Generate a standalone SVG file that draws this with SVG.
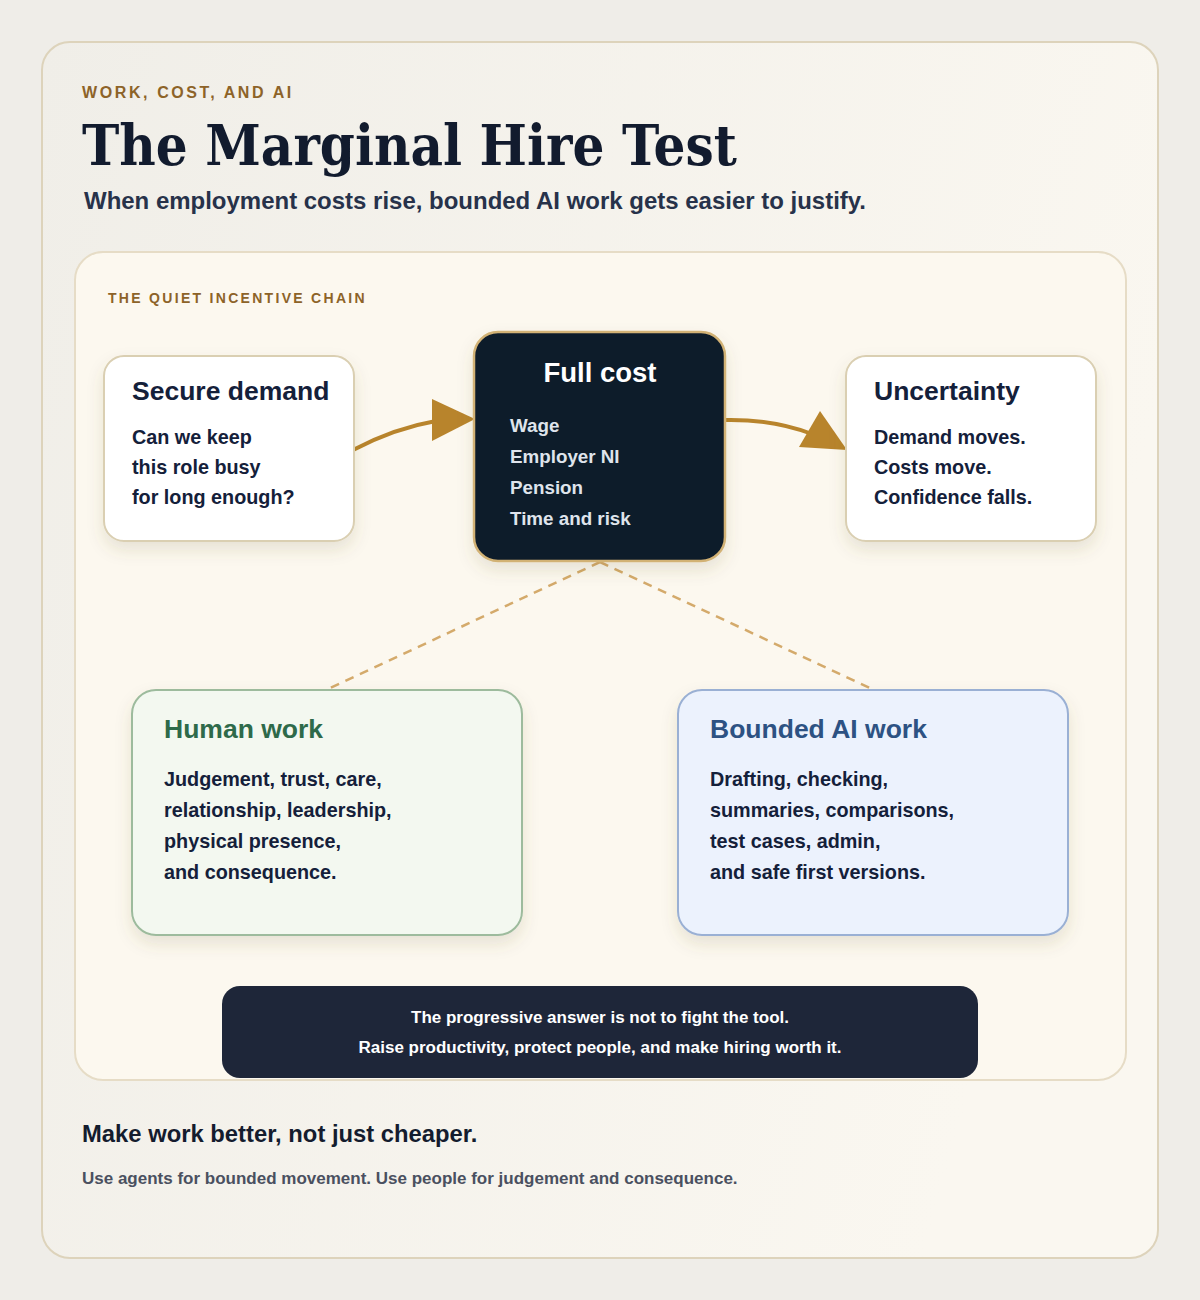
<svg xmlns="http://www.w3.org/2000/svg" width="1200" height="1300" viewBox="0 0 1200 1300">
<style>
.sans{font-family:"Liberation Sans",Arial,sans-serif;font-weight:bold}
.eyebrow{font-size:16px;fill:#8d6328;letter-spacing:2.6px}
.title{font-family:"DejaVu Serif","Liberation Serif",serif;font-weight:bold;font-size:56px;fill:#121b2e}
.sub{font-size:24px;fill:#27324a}
.kicker{font-size:14px;fill:#8d6328;letter-spacing:2.3px}
.ntitle{font-size:26.5px;fill:#14203a}
.nbody{font-size:19.8px;fill:#14203a}
.ctitle{font-size:27.5px;fill:#ffffff}
.cbody{font-size:18.8px;fill:#dfe4ec}
.card{fill:#ffffff;stroke:#dacfb2;stroke-width:2}
.arrow{fill:none;stroke:#b8842c;stroke-width:4}
.head{fill:#b8842c}
.dash{fill:none;stroke:#d4aa6b;stroke-width:2.5;stroke-dasharray:9 7}
</style>
<defs>
<filter id="sh" x="-20%" y="-20%" width="140%" height="150%">
<feDropShadow dx="0" dy="8" stdDeviation="8" flood-color="#6b5a36" flood-opacity="0.14"/>
</filter>
<linearGradient id="bg" x1="0" y1="0" x2="1" y2="0.3">
<stop offset="0" stop-color="#f0eee8"/>
<stop offset="1" stop-color="#faf7f0"/>
</linearGradient>
</defs>
<rect x="0" y="0" width="1200" height="1300" fill="#efede8"/>
<rect x="42" y="42" width="1116" height="1216" rx="28" fill="url(#bg)" stroke="#ddd3bb" stroke-width="2"/>
<g id="header">
<text class="sans eyebrow" x="82" y="98">WORK, COST, AND AI</text>
<text class="title" x="82" y="165" textLength="655" lengthAdjust="spacingAndGlyphs">The Marginal Hire Test</text>
<text class="sans sub" x="84" y="209" textLength="782" lengthAdjust="spacingAndGlyphs">When employment costs rise, bounded AI work gets easier to justify.</text>
</g>
<g id="panel">
<rect x="75" y="252" width="1051" height="828" rx="28" fill="#fcf8ef" stroke="#e6dcc6" stroke-width="2"/>
<text class="sans kicker" x="108" y="303">THE QUIET INCENTIVE CHAIN</text>
</g>
<g id="connectors">
<path class="arrow" d="M353,450 Q395,428 436,421"/>
<polygon class="head" points="432,399 475,419 432,441"/>
<path class="arrow" d="M725,420 Q772,419 812,434"/>
<polygon class="head" points="820,411 847,450 799,447"/>
<path class="dash" d="M600,562 L326,690"/>
<path class="dash" d="M600,562 L874,690"/>
</g>
<g id="secure-demand">
<rect class="card" x="104" y="356" width="250" height="185" rx="20" filter="url(#sh)"/>
<text class="sans ntitle" x="132" y="400">Secure demand</text>
<text class="sans nbody" x="132" y="444">Can we keep</text>
<text class="sans nbody" x="132" y="474">this role busy</text>
<text class="sans nbody" x="132" y="504">for long enough?</text>
</g>
<g id="full-cost">
<rect x="474" y="332" width="251" height="229" rx="24" fill="#0e1c2c" stroke="#d2b274" stroke-width="2.5" filter="url(#sh)"/>
<text class="sans ctitle" x="600" y="382" text-anchor="middle">Full cost</text>
<text class="sans cbody" x="510" y="432">Wage</text>
<text class="sans cbody" x="510" y="463">Employer NI</text>
<text class="sans cbody" x="510" y="494">Pension</text>
<text class="sans cbody" x="510" y="525">Time and risk</text>
</g>
<g id="uncertainty">
<rect class="card" x="846" y="356" width="250" height="185" rx="20" filter="url(#sh)"/>
<text class="sans ntitle" x="874" y="400">Uncertainty</text>
<text class="sans nbody" x="874" y="444">Demand moves.</text>
<text class="sans nbody" x="874" y="474">Costs move.</text>
<text class="sans nbody" x="874" y="504">Confidence falls.</text>
</g>
<g id="human-work">
<rect x="132" y="690" width="390" height="245" rx="24" fill="#f3f8f0" stroke="#9dbb9d" stroke-width="2" filter="url(#sh)"/>
<text class="sans ntitle" x="164" y="738" style="fill:#2e6a4a">Human work</text>
<text class="sans nbody" x="164" y="786">Judgement, trust, care,</text>
<text class="sans nbody" x="164" y="817">relationship, leadership,</text>
<text class="sans nbody" x="164" y="848">physical presence,</text>
<text class="sans nbody" x="164" y="879">and consequence.</text>
</g>
<g id="bounded-ai-work">
<rect x="678" y="690" width="390" height="245" rx="24" fill="#ecf2fd" stroke="#9ab0d4" stroke-width="2" filter="url(#sh)"/>
<text class="sans ntitle" x="710" y="738" style="fill:#2d5283">Bounded AI work</text>
<text class="sans nbody" x="710" y="786">Drafting, checking,</text>
<text class="sans nbody" x="710" y="817">summaries, comparisons,</text>
<text class="sans nbody" x="710" y="848">test cases, admin,</text>
<text class="sans nbody" x="710" y="879">and safe first versions.</text>
</g>
<g id="callout">
<rect x="222" y="986" width="756" height="92" rx="18" fill="#1e2639"/>
<text class="sans" x="600" y="1023" text-anchor="middle" font-size="16" fill="#ffffff" textLength="378" lengthAdjust="spacingAndGlyphs">The progressive answer is not to fight the tool.</text>
<text class="sans" x="600" y="1053" text-anchor="middle" font-size="16" fill="#ffffff" textLength="483" lengthAdjust="spacingAndGlyphs">Raise productivity, protect people, and make hiring worth it.</text>
</g>
<g id="footer">
<text class="sans" x="82" y="1142" font-size="23.8" fill="#141c2e">Make work better, not just cheaper.</text>
<text class="sans" x="82" y="1184" font-size="17" fill="#4a5060">Use agents for bounded movement. Use people for judgement and consequence.</text>
</g>
</svg>
